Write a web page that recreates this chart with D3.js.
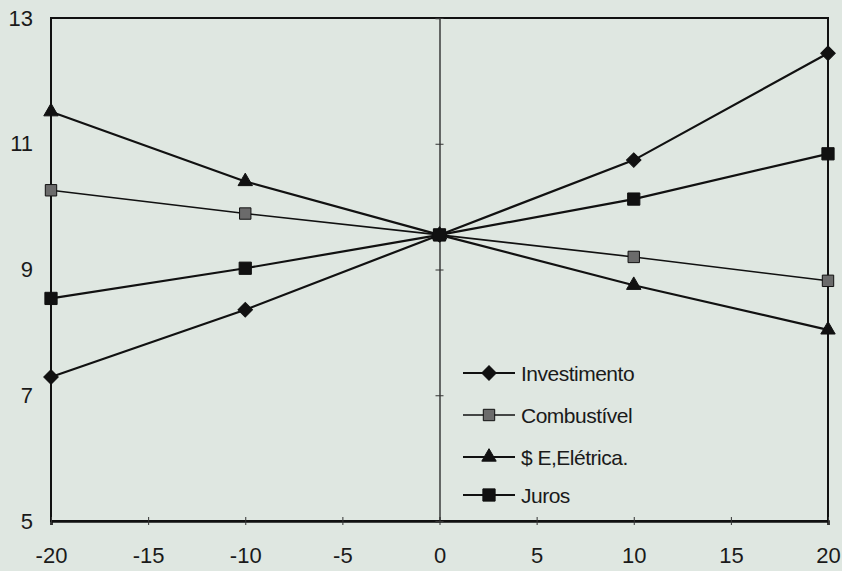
<!DOCTYPE html>
<html>
<head>
<meta charset="utf-8">
<script src="https://cdn.jsdelivr.net/npm/d3@7"></script>
<style>
  html, body { margin: 0; padding: 0; background: #dfe7e1; }
  svg { display: block; }
  text { font-family: "Liberation Sans", Arial, sans-serif; fill: #1a1a1a; }
</style>
</head>
<body>
<svg id="chart" width="842" height="571"></svg>
<script>
// Sensitivity values (% variation on the x axis)
const variations = [-20, -10, 0, 10, 20];
const investimento = [7.29, 8.36, 9.55, 10.74, 12.44];
const combustivel = [10.26, 9.89, 9.55, 9.20, 8.82];
const eletrica = [11.51, 10.40, 9.55, 8.75, 8.04];
const juros = [8.54, 9.02, 9.55, 10.12, 10.84];

const seriesNames = ["Investimento", "Combustível", "$ E,Elétrica.", "Juros"];
const xTicks = [-20, -15, -10, -5, 0, 5, 10, 15, 20];
const yTicks = [5, 7, 9, 11, 13];

const series = [
  { name: seriesNames[0], values: investimento, symbol: d3.symbolSquare, size: 105, rotate: 45, fill: "#111", width: 2.2 },
  { name: seriesNames[1], values: combustivel, symbol: d3.symbolSquare, size: 130, rotate: 0, fill: "#6b6b6b", width: 1.6 },
  { name: seriesNames[2], values: eletrica, symbol: d3.symbolTriangle, size: 90, rotate: 0, fill: "#111", width: 2.2 },
  { name: seriesNames[3], values: juros, symbol: d3.symbolSquare, size: 150, rotate: 0, fill: "#111", width: 2.2 }
];

const svg = d3.select("#chart");
const x = d3.scaleLinear().domain([-20, 20]).range([51, 828]);
const y = d3.scaleLinear().domain([5, 13]).range([521, 18]);
const labelFont = "'Liberation Sans', Arial, sans-serif";

// plot frame
svg.append("rect")
  .attr("x", x(-20)).attr("y", y(13))
  .attr("width", x(20) - x(-20)).attr("height", y(5) - y(13))
  .attr("fill", "none").attr("stroke", "#111").attr("stroke-width", 2);

// bottom axis
const xAxis = svg.append("g")
  .attr("transform", `translate(0,${y(5)})`)
  .call(d3.axisBottom(x).tickValues(xTicks).tickSize(4).tickPadding(22).tickFormat(d => String(d)));
xAxis.select(".domain").attr("stroke", "#111").attr("stroke-width", 2.6);
xAxis.selectAll(".tick line").attr("y1", -4).attr("y2", 4).attr("stroke", "#333");
xAxis.selectAll(".tick text")
  .attr("font-size", 22).attr("fill", "#1a1a1a").attr("font-family", labelFont);

// left value labels
const yAxis = svg.append("g")
  .attr("transform", `translate(${x(-20)},0)`)
  .call(d3.axisLeft(y).tickValues(yTicks).tickSize(0).tickPadding(18).tickFormat(d => String(d)));
yAxis.select(".domain").remove();
yAxis.selectAll(".tick text")
  .attr("font-size", 22).attr("fill", "#1a1a1a").attr("font-family", labelFont);

// vertical axis crossing at zero
const yZero = svg.append("g")
  .attr("transform", `translate(${x(0)},0)`)
  .call(d3.axisLeft(y).tickValues(yTicks).tickSize(4).tickFormat(""));
yZero.select(".domain").attr("stroke", "#222").attr("stroke-width", 1.3);
yZero.selectAll(".tick line").attr("x1", -4).attr("x2", 4).attr("stroke", "#333");

// series lines and markers
const line = d3.line().x((d, i) => x(variations[i])).y(d => y(d));
series.forEach(s => {
  svg.append("path")
    .datum(s.values)
    .attr("d", line)
    .attr("fill", "none")
    .attr("stroke", "#111")
    .attr("stroke-width", s.width);
  svg.append("g").selectAll("path")
    .data(s.values)
    .join("path")
    .attr("transform", (d, i) => `translate(${x(variations[i])},${y(d)}) rotate(${s.rotate})`)
    .attr("d", d3.symbol(s.symbol, s.size))
    .attr("fill", s.fill)
    .attr("stroke", "#111")
    .attr("stroke-width", 1);
});

// legend
const legendY = [373, 415, 457, 495];
const legend = svg.append("g");
series.forEach((s, i) => {
  const g = legend.append("g").attr("transform", `translate(0,${legendY[i]})`);
  g.append("line").attr("x1", 463).attr("x2", 515).attr("y1", 0).attr("y2", 0)
    .attr("stroke", "#111").attr("stroke-width", s.width);
  g.append("path").attr("transform", `translate(489,0) rotate(${s.rotate})`)
    .attr("d", d3.symbol(s.symbol, s.size))
    .attr("fill", s.fill).attr("stroke", "#111").attr("stroke-width", 1);
  g.append("text").attr("x", 521).attr("y", 0).attr("dy", "0.36em")
    .attr("font-size", 21).attr("letter-spacing", -0.5).text(s.name);
});
</script>
</body>
</html>
